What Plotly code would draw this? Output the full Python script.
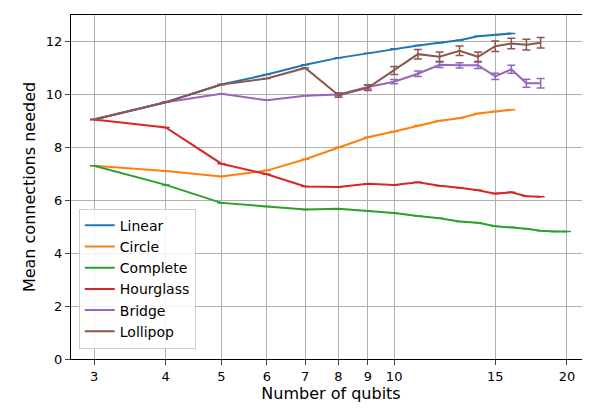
import plotly.graph_objects as go

n = list(range(3, 21))
linear = [9.05, 9.7, 10.37, 10.75, 11.12, 11.38, 11.55, 11.72, 11.85, 11.95, 12.05, 12.2, 12.25, 12.3]
circle = [7.3, 7.1, 6.9, 7.12, 7.55, 8.0, 8.38, 8.6, 8.82, 9.0, 9.1, 9.28, 9.35, 9.42]
complete = [7.3, 6.58, 5.9, 5.76, 5.65, 5.68, 5.6, 5.52, 5.4, 5.32, 5.2, 5.15, 5.02, 4.98, 4.92, 4.85, 4.82, 4.82]
hourglass = [9.05, 8.75, 7.38, 6.98, 6.52, 6.5, 6.62, 6.58, 6.68, 6.55, 6.47, 6.38, 6.25, 6.3, 6.15, 6.13]
bridge = [9.05, 9.7, 10.02, 9.78, 9.95, 10.0, 10.28, 10.48, 10.78, 11.12, 11.1, 11.1, 10.68, 10.95, 10.42, 10.42]
bridge_err = [0, 0, 0, 0, 0, 0.05, 0.08, 0.08, 0.1, 0.1, 0.1, 0.12, 0.12, 0.15, 0.15, 0.18]
lollipop = [9.05, 9.7, 10.37, 10.6, 11.0, 9.97, 10.25, 10.9, 11.52, 11.42, 11.65, 11.42, 11.82, 11.92, 11.88, 11.95]
lollipop_err = [0, 0, 0, 0, 0, 0.08, 0.1, 0.15, 0.18, 0.18, 0.18, 0.18, 0.2, 0.2, 0.2, 0.2]

series = [
    ("Linear", linear, None, "#1f77b4"),
    ("Circle", circle, None, "#ff7f0e"),
    ("Complete", complete, None, "#2ca02c"),
    ("Hourglass", hourglass, None, "#d62728"),
    ("Bridge", bridge, bridge_err, "#9467bd"),
    ("Lollipop", lollipop, lollipop_err, "#8c564b"),
]

fig = go.Figure()
for name, ys, err, c in series:
    fig.add_trace(go.Scatter(
        x=n[:len(ys)], y=ys, name=name, mode="lines",
        line=dict(color=c, width=2),
        error_y=dict(type="data", array=err if err else [0]*len(ys), visible=True,
                     color=c, thickness=1.5, width=4),
    ))

ticks = [3, 4, 5, 6, 7, 8, 9, 10, 15, 20]
fig.update_layout(
    width=590, height=409, template=None,
    paper_bgcolor="white", plot_bgcolor="white",
    margin=dict(l=63, r=7, t=7, b=58),
    font=dict(family="DejaVu Sans", size=13, color="black"),
    legend=dict(x=0.015, y=0.03, xanchor="left", yanchor="bottom",
                bordercolor="#cccccc", borderwidth=1, bgcolor="rgba(255,255,255,0.85)",
                font=dict(size=14), tracegroupgap=0),
    xaxis=dict(type="log", range=[0.437, 1.343], tickvals=ticks, ticktext=[str(t) for t in ticks],
               title=dict(text="Number of qubits", font=dict(size=16), standoff=4),
               automargin=False,
               showgrid=True, gridcolor="#b0b0b0", gridwidth=1,
               showline=True, linecolor="black", mirror=True, ticks="outside", zeroline=False),
    yaxis=dict(range=[0, 13], tickvals=[0, 2, 4, 6, 8, 10, 12],
               title=dict(text="Mean connections needed", font=dict(size=16), standoff=6),
               automargin=False,
               showgrid=True, gridcolor="#b0b0b0", gridwidth=1,
               showline=True, linecolor="black", mirror=True, ticks="outside", zeroline=False),
)
fig.write_html("out.html")
